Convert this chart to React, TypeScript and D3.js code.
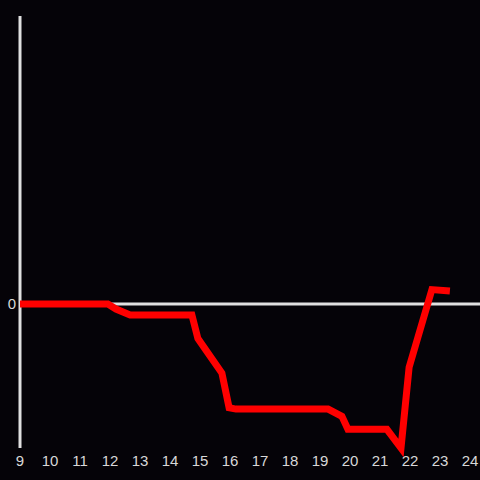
import React from "react";
import * as d3 from "d3";

const xs = [9, 11.93, 12.2, 12.67, 14.73, 14.93, 15.23, 15.73, 15.97, 16.2, 19.27, 19.73, 19.93, 21.23, 21.7, 21.97, 22.73, 23.33];
const ys = [0, 0, -0.035, -0.076, -0.076, -0.24, -0.33, -0.48, -0.72, -0.73, -0.73, -0.78, -0.87, -0.87, -1.0, -0.44, 0.1, 0.09];
const xTicks = [9, 10, 11, 12, 13, 14, 15, 16, 17, 18, 19, 20, 21, 22, 23, 24];
const yTicks = [0];

export default function App() {
  const W = 480, H = 480;
  const x = d3.scaleLinear().domain([9, 24]).range([20, 470]);
  const y = d3.scaleLinear().domain([-1, 2]).range([448, 16]);
  const data = xs.map((v, i) => [v, ys[i]] as [number, number]);
  const line = d3.line<[number, number]>().x(d => x(d[0])).y(d => y(d[1]));
  return (
    <svg width={W} height={H} style={{ position: "fixed", left: 0, top: 0, background: "#050308" }}>
      <rect x={0} y={0} width={W} height={H} fill="#050308" />
      <line x1={x(9)} x2={x(9)} y1={y(2)} y2={y(-1)} stroke="#e0e0e0" strokeWidth={3} />
      <line x1={x(9)} x2={W} y1={y(0)} y2={y(0)} stroke="#e0e0e0" strokeWidth={3} />
      {yTicks.map(t => (
        <text key={t} x={16} y={y(t)} dy="0.36em" textAnchor="end" fill="#d8d8d8" fontSize={15} fontFamily="Liberation Sans">{t}</text>
      ))}
      {xTicks.map(t => (
        <text key={t} x={x(t)} y={466} textAnchor="middle" fill="#d8d8d8" fontSize={15} fontFamily="Liberation Sans">{t}</text>
      ))}
      <path d={line(data) || ""} fill="none" stroke="#ff0000" strokeWidth={7} strokeLinejoin="miter" />
    </svg>
  );
}
